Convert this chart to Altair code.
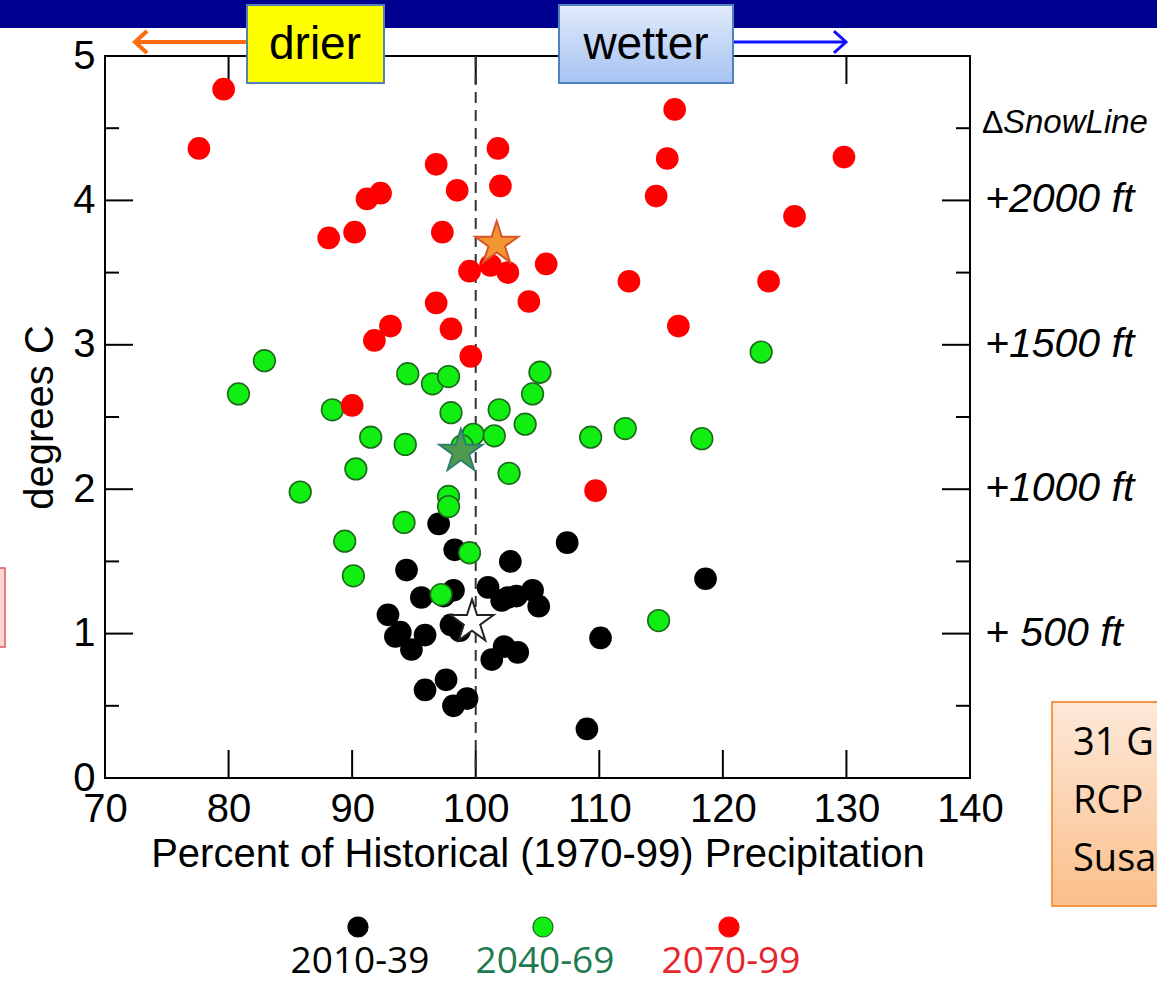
import altair as alt
import pandas as pd

# ---------------- data ----------------
series = ["2010-39", "2040-69", "2070-99"]

black_x = [97.0, 98.3, 102.8, 107.4, 94.4, 95.6, 98.2, 101.0, 102.1, 103.3, 104.6,
           105.1, 92.9, 93.9, 95.9, 94.8, 98.7, 102.3, 101.3, 103.4, 110.1, 97.6,
           95.9, 98.2, 99.3, 109.0, 118.6, 93.5, 97.4, 102.6, 98.0]
black_y = [1.76, 1.58, 1.50, 1.63, 1.44, 1.25, 1.30, 1.32, 1.23, 1.26, 1.30,
           1.19, 1.13, 1.01, 0.99, 0.89, 1.02, 0.91, 0.82, 0.87, 0.97, 0.68,
           0.61, 0.50, 0.55, 0.34, 1.38, 0.98, 1.26, 1.25, 1.06]

green_x = [82.9, 80.8, 94.5, 96.5, 97.8, 105.2, 104.6, 88.4, 98.0, 101.9, 104.0,
           91.5, 94.3, 99.8, 101.5, 102.7, 90.3, 85.8, 97.8, 97.8, 94.2, 89.4,
           99.5, 90.1, 97.2, 114.8, 123.1, 109.3, 112.1, 118.3, 98.9]
green_y = [2.89, 2.66, 2.80, 2.73, 2.78, 2.81, 2.66, 2.55, 2.53, 2.55, 2.45,
           2.36, 2.31, 2.38, 2.37, 2.11, 2.14, 1.98, 1.95, 1.88, 1.77, 1.64,
           1.56, 1.40, 1.27, 1.09, 2.95, 2.36, 2.42, 2.35, 2.30]

red_x = [79.6, 77.6, 88.1, 90.2, 91.2, 92.3, 96.8, 97.3, 98.5, 101.8, 102.0,
         99.5, 101.2, 102.6, 105.7, 104.3, 96.8, 98.0, 93.1, 91.8, 99.6, 90.0,
         109.7, 116.1, 115.5, 114.6, 125.8, 129.8, 112.4, 123.7, 116.4]
red_y = [4.77, 4.36, 3.74, 3.78, 4.01, 4.05, 4.25, 3.78, 4.07, 4.36, 4.10,
         3.51, 3.55, 3.50, 3.56, 3.30, 3.29, 3.11, 3.13, 3.03, 2.92, 2.58,
         1.99, 4.63, 4.29, 4.03, 3.89, 4.30, 3.44, 3.44, 3.13]

# ensemble-mean stars (2010-39, 2040-69, 2070-99)
star_x = [99.7, 98.8, 101.7]
star_y = [1.08, 2.26, 3.70]

x_ticks = [70, 80, 90, 100, 110, 120, 130, 140]
y_ticks = [0, 1, 2, 3, 4, 5]
y_minor = [0.5, 1.5, 2.5, 3.5, 4.5]
snow_levels = [4, 3, 2, 1]
snow_labels = ["+2000 ft", "+1500 ft", "+1000 ft", "+ 500 ft"]
box_lines = ["31 G", "RCP", "Susa"]

# ---------------- chart ----------------
W, H = 865, 722
FONT = "Liberation Sans"
xs = alt.Scale(domain=[70, 140], nice=False, zero=False)
ys = alt.Scale(domain=[0, 5], nice=False, zero=False)
one = pd.DataFrame({"a": [0]})

x_axis = alt.Axis(values=x_ticks, ticks=False, domain=False, grid=False,
                  labelFont=FONT, labelFontSize=40, labelColor="black",
                  labelPadding=11, labelFlush=False, labelOverlap=False,
                  title="Percent of Historical (1970-99) Precipitation",
                  titleFont=FONT, titleFontSize=40, titleFontWeight="normal",
                  titleColor="black", titlePadding=5)
y_axis = alt.Axis(values=y_ticks, ticks=False, domain=False, grid=False,
                  labelFont=FONT, labelFontSize=40, labelColor="black",
                  labelPadding=10, labelFlush=False, labelOverlap=False,
                  title="degrees C", titleFont=FONT, titleFontSize=40,
                  titleFontWeight="normal", titleColor="black", titlePadding=12)


def df(x, y):
    return pd.DataFrame({"x": x, "y": y})


def xq():
    return alt.X("x:Q", scale=xs, axis=x_axis)


def yq():
    return alt.Y("y:Q", scale=ys, axis=y_axis)


layers = []

# top navy band
layers.append(alt.Chart(one).mark_rect(color="#000090").encode(
    x=alt.value(-110), x2=alt.value(1060), y=alt.value(-60), y2=alt.value(-28)))

# tick marks pointing inward
xt = df(x_ticks[1:-1], [0] * (len(x_ticks) - 2))
layers.append(alt.Chart(xt).mark_rule(color="black", strokeWidth=2).encode(
    x=xq(), y=alt.value(0), y2=alt.value(28)))
layers.append(alt.Chart(xt).mark_rule(color="black", strokeWidth=2).encode(
    x=xq(), y=alt.value(H), y2=alt.value(H - 28)))
yt = df([0] * (len(y_ticks) - 2), y_ticks[1:-1])
layers.append(alt.Chart(yt).mark_rule(color="black", strokeWidth=2).encode(
    y=yq(), x=alt.value(0), x2=alt.value(28)))
layers.append(alt.Chart(yt).mark_rule(color="black", strokeWidth=2).encode(
    y=yq(), x=alt.value(W), x2=alt.value(W - 28)))
ym = df([0] * len(y_minor), y_minor)
layers.append(alt.Chart(ym).mark_rule(color="black", strokeWidth=2).encode(
    y=yq(), x=alt.value(0), x2=alt.value(14)))
layers.append(alt.Chart(ym).mark_rule(color="black", strokeWidth=2).encode(
    y=yq(), x=alt.value(W), x2=alt.value(W - 14)))

# dashed 100% line
layers.append(alt.Chart(df([100], [0])).mark_rule(
    color="#333333", strokeWidth=2, strokeDash=[11, 7]).encode(
    x=xq(), y=alt.value(0), y2=alt.value(H)))

# scatter points
layers.append(alt.Chart(df(black_x, black_y)).mark_point(
    shape="circle", filled=True, fill="black", size=515, opacity=1).encode(x=xq(), y=yq()))
layers.append(alt.Chart(df(green_x, green_y)).mark_point(
    shape="circle", filled=True, fill="#11ee11", stroke="#1d6a1d", strokeWidth=1.6,
    size=470, opacity=1).encode(x=xq(), y=yq()))
layers.append(alt.Chart(df(red_x, red_y)).mark_point(
    shape="circle", filled=True, fill="#ff0000", size=515, opacity=1).encode(x=xq(), y=yq()))

STAR = ("M0,-1L0.2245,-0.309L0.951,-0.309L0.363,0.118L0.588,0.809L0,0.382"
        "L-0.588,0.809L-0.363,0.118L-0.951,-0.309L-0.2245,-0.309Z")
star_styles = [("white", "#222222"), ("#4f9a4c", "#2e7f6e"), ("#f19630", "#d8542a")]
for i, (f, s) in enumerate(star_styles):
    layers.append(alt.Chart(df([star_x[i]], [star_y[i]])).mark_point(
        shape=STAR, filled=True, fill=f, stroke=s, strokeWidth=2, size=2050,
        opacity=1).encode(x=xq(), y=yq()))

# right-hand snow line labels
layers.append(alt.Chart(pd.DataFrame({"y": snow_levels, "t": snow_labels})).mark_text(
    align="left", baseline="middle", font=FONT, fontStyle="italic", fontSize=41,
    color="black").encode(x=alt.value(W + 15), y=yq(), text="t:N"))
layers.append(alt.Chart(one).mark_text(
    text="\u0394", align="left", baseline="alphabetic", font=FONT, fontSize=32,
    color="black").encode(x=alt.value(W + 12), y=alt.value(77)))
layers.append(alt.Chart(one).mark_text(
    text="SnowLine", align="left", baseline="alphabetic", font=FONT, fontStyle="italic",
    fontSize=33, color="black").encode(x=alt.value(W + 33), y=alt.value(77)))

# drier / wetter boxes and arrows
layers.append(alt.Chart(one).mark_rule(color="#ff6a10", strokeWidth=4).encode(
    x=alt.value(30), x2=alt.value(142), y=alt.value(-14)))
layers.append(alt.Chart(one).mark_point(
    shape="M1.1,-1L0,0L1.1,1", filled=False, stroke="#ff6a10", strokeWidth=4,
    size=480, opacity=1).encode(x=alt.value(30), y=alt.value(-14)))
layers.append(alt.Chart(one).mark_rule(color="#1010ff", strokeWidth=3).encode(
    x=alt.value(628), x2=alt.value(741), y=alt.value(-14)))
layers.append(alt.Chart(one).mark_point(
    shape="M-1.1,-1L0,0L-1.1,1", filled=False, stroke="#1010ff", strokeWidth=3,
    size=480, opacity=1).encode(x=alt.value(741), y=alt.value(-14)))

layers.append(alt.Chart(one).mark_rect(fill="#ffff00", stroke="#4f81bd", strokeWidth=2).encode(
    x=alt.value(142), x2=alt.value(279), y=alt.value(-51), y2=alt.value(27)))
layers.append(alt.Chart(one).mark_text(
    text="drier", font=FONT, fontSize=46, color="black", align="center",
    baseline="middle").encode(x=alt.value(210), y=alt.value(-11)))
blue_grad = alt.Gradient(gradient="linear",
                         stops=[alt.GradientStop(color="#e1ebfb", offset=0),
                                alt.GradientStop(color="#a6c3f2", offset=1)],
                         x1=0, x2=0, y1=0, y2=1)
layers.append(alt.Chart(one).mark_rect(fill=blue_grad, stroke="#4f81bd", strokeWidth=2).encode(
    x=alt.value(454), x2=alt.value(628), y=alt.value(-51), y2=alt.value(27)))
layers.append(alt.Chart(one).mark_text(
    text="wetter", font=FONT, fontSize=46, color="black", align="center",
    baseline="middle").encode(x=alt.value(541), y=alt.value(-11)))

# small pink box at left edge
layers.append(alt.Chart(one).mark_rect(fill="#fbd5d5", stroke="#e05a5a", strokeWidth=1.5).encode(
    x=alt.value(-112), x2=alt.value(-100), y=alt.value(512), y2=alt.value(591)))

# orange note box (bottom right)
orange_grad = alt.Gradient(gradient="linear",
                           stops=[alt.GradientStop(color="#fde9d9", offset=0),
                                  alt.GradientStop(color="#fbbf8a", offset=1)],
                           x1=0, x2=0, y1=0, y2=1)
layers.append(alt.Chart(one).mark_rect(fill=orange_grad, stroke="#f79646", strokeWidth=2).encode(
    x=alt.value(947), x2=alt.value(1070), y=alt.value(646), y2=alt.value(850)))
for i, t in enumerate(box_lines):
    layers.append(alt.Chart(one).mark_text(
        text=t, font="Open Sans", fontSize=38, color="black", align="left",
        baseline="alphabetic").encode(x=alt.value(968), y=alt.value(699 + 58 * i)))

# legend below the plot
leg_x = [253, 438, 624]
leg_fill = ["black", "#11ee11", "#ff0000"]
leg_txt = ["black", "#1e7b4f", "#e8252a"]
for i in range(3):
    layers.append(alt.Chart(one).mark_point(
        shape="circle", filled=True, fill=leg_fill[i],
        stroke="#1d6a1d" if i == 1 else leg_fill[i], strokeWidth=1.2,
        size=400, opacity=1).encode(x=alt.value(leg_x[i]), y=alt.value(871)))
    layers.append(alt.Chart(one).mark_text(
        text=series[i], font="Open Sans", fontSize=37, color=leg_txt[i],
        align="center", baseline="middle").encode(
        x=alt.value(leg_x[i] + 2), y=alt.value(906)))

chart = alt.layer(*layers).properties(
    width=W, height=H,
    autosize=alt.AutoSizeParams(type="none"),
    padding={"left": 105, "top": 56, "right": 187, "bottom": 206},
    background="white",
).configure_view(stroke="black", strokeWidth=2)

chart.save("out.html", embed_options={"renderer": "svg", "actions": False})
